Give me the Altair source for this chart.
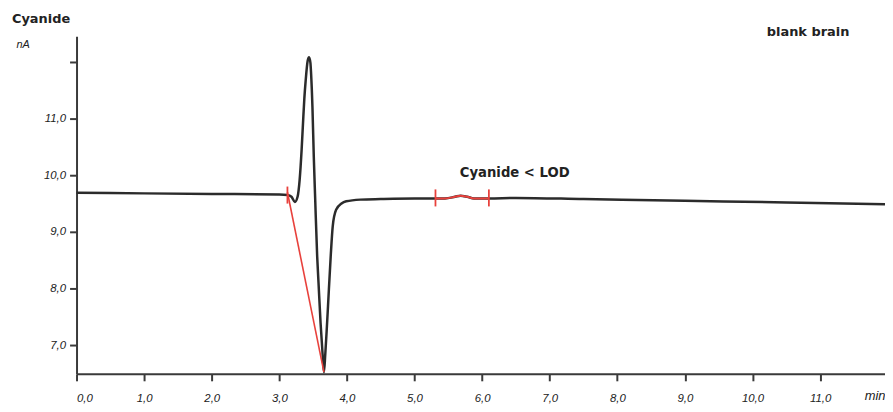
import altair as alt
import pandas as pd

# ---- data ----
time_min = [0.0, 1.0, 2.0, 3.0, 3.12, 3.18, 3.23, 3.27, 3.30, 3.33, 3.35, 3.37, 3.39,
            3.42, 3.44, 3.46, 3.47, 3.49, 3.51, 3.53, 3.56, 3.58, 3.61, 3.64, 3.66,
            3.68, 3.70, 3.72, 3.76, 3.79, 3.84, 3.92, 3.99, 4.2, 4.5, 5.0, 5.31,
            5.45, 5.6, 5.68, 5.78, 5.88, 6.1, 6.5, 7.5, 9.0, 10.5, 11.96]
current_nA = [9.69, 9.68, 9.67, 9.66, 9.65, 9.62, 9.53, 9.62, 9.91, 10.45, 10.91, 11.35, 11.67,
              12.02, 12.08, 11.98, 11.79, 11.2, 10.32, 9.6, 8.57, 8.1, 7.40, 6.85, 6.53,
              6.85, 7.25, 7.69, 8.57, 9.10, 9.39, 9.50, 9.54, 9.57, 9.58, 9.59, 9.59,
              9.59, 9.62, 9.64, 9.62, 9.59, 9.59, 9.60, 9.58, 9.55, 9.52, 9.49]

# red integration baseline under the peak
base_t = [3.12, 3.66]
base_v = [9.70, 6.53]

# red LOD window along the trace
lod_t = [5.31, 5.45, 5.6, 5.68, 5.78, 5.88, 6.1]
lod_v = [9.59, 9.59, 9.62, 9.64, 9.62, 9.59, 9.59]

# red boundary ticks
tick_t = [3.12, 5.31, 6.1]
tick_lo = [9.50, 9.45, 9.45]
tick_hi = [9.80, 9.75, 9.75]

x_ticks = [0, 1, 2, 3, 4, 5, 6, 7, 8, 9, 10, 11]
y_ticks = [7, 8, 9, 10, 11, 12]

annot_text = ["Cyanide < LOD"]
annot_t = [5.67]
annot_v = [9.965]

# ---- tables ----
trace = pd.DataFrame({"t": time_min, "v": current_nA})
base = pd.DataFrame({"t": base_t, "v": base_v})
lod = pd.DataFrame({"t": lod_t, "v": lod_v})
ticks = pd.DataFrame({"t": tick_t, "lo": tick_lo, "hi": tick_hi})
annot = pd.DataFrame({"t": annot_t, "v": annot_v, "label": annot_text})

RED = "#e8413c"
DARK = "#2b2b2b"

xscale = alt.Scale(domain=[0, 11.96], nice=False, zero=False)
yscale = alt.Scale(domain=[6.5, 12.45], nice=False, zero=False)

xaxis = alt.Axis(
    values=x_ticks,
    labelExpr="replace(format(datum.value, '.1f'), '.', ',')",
    title="min",
    titleX=814, titleAlign="right", titleY=26, titleBaseline="alphabetic",
    titleFont="Liberation Sans", titleFontStyle="italic", titleFontWeight="normal",
    titleFontSize=13, titleColor="#222",
    labelPadding=12,
)
yaxis = alt.Axis(
    values=y_ticks,
    labelExpr="datum.value == 12 ? '' : replace(format(datum.value, '.1f'), '.', ',')",
    title="nA",
    titleAngle=0, titleX=-61, titleY=11, titleAlign="left", titleBaseline="alphabetic",
    titleFont="Liberation Sans", titleFontStyle="italic", titleFontWeight="normal",
    titleFontSize=11, titleColor="#222",
    labelPadding=4,
)

line = alt.Chart(trace).mark_line(color=DARK, strokeWidth=2.5, interpolate="monotone").encode(
    x=alt.X("t:Q", scale=xscale, axis=xaxis),
    y=alt.Y("v:Q", scale=yscale, axis=yaxis),
)

base_line = alt.Chart(base).mark_line(color=RED, strokeWidth=1.6).encode(
    x=alt.X("t:Q", scale=xscale), y=alt.Y("v:Q", scale=yscale)
)

lod_line = alt.Chart(lod).mark_line(color=RED, strokeWidth=2.0, interpolate="monotone").encode(
    x=alt.X("t:Q", scale=xscale), y=alt.Y("v:Q", scale=yscale)
)

tick_rules = alt.Chart(ticks).mark_rule(color=RED, strokeWidth=1.8).encode(
    x=alt.X("t:Q", scale=xscale), y=alt.Y("lo:Q", scale=yscale), y2="hi:Q"
)

annot_mark = alt.Chart(annot).mark_text(
    align="left", baseline="alphabetic", font="DejaVu Sans", fontWeight="bold",
    fontSize=13.3, color="#222"
).encode(x=alt.X("t:Q", scale=xscale), y=alt.Y("v:Q", scale=yscale), text="label:N")

title_df = pd.DataFrame({"label": ["Cyanide"]})
title_mark = alt.Chart(title_df).mark_text(
    align="left", baseline="alphabetic", font="DejaVu Sans", fontWeight="bold",
    fontSize=13, color="#222"
).encode(x=alt.value(-65), y=alt.value(-13), text="label:N")

sample_df = pd.DataFrame({"label": ["blank brain"]})
sample_mark = alt.Chart(sample_df).mark_text(
    align="left", baseline="alphabetic", font="DejaVu Sans", fontWeight="bold",
    fontSize=13, color="#222"
).encode(x=alt.value(695), y=alt.value(0), text="label:N")

chart = alt.layer(
    line, base_line, lod_line, tick_rules, annot_mark, title_mark, sample_mark
).properties(
    width=814, height=340,
    autosize=alt.AutoSizeParams(type="none"),
    padding={"left": 69, "top": 27, "right": 0, "bottom": 29},
).configure_view(stroke=None).configure_axis(
    grid=False,
    domainColor="#3a3a3a", domainWidth=2,
    tickColor="#3a3a3a", tickWidth=2, tickSize=7,
    labelFont="Liberation Sans", labelFontStyle="italic", labelFontSize=11.5,
    labelColor="#222",
)

chart.save("out.html", embed_options={"renderer": "svg", "actions": False})
